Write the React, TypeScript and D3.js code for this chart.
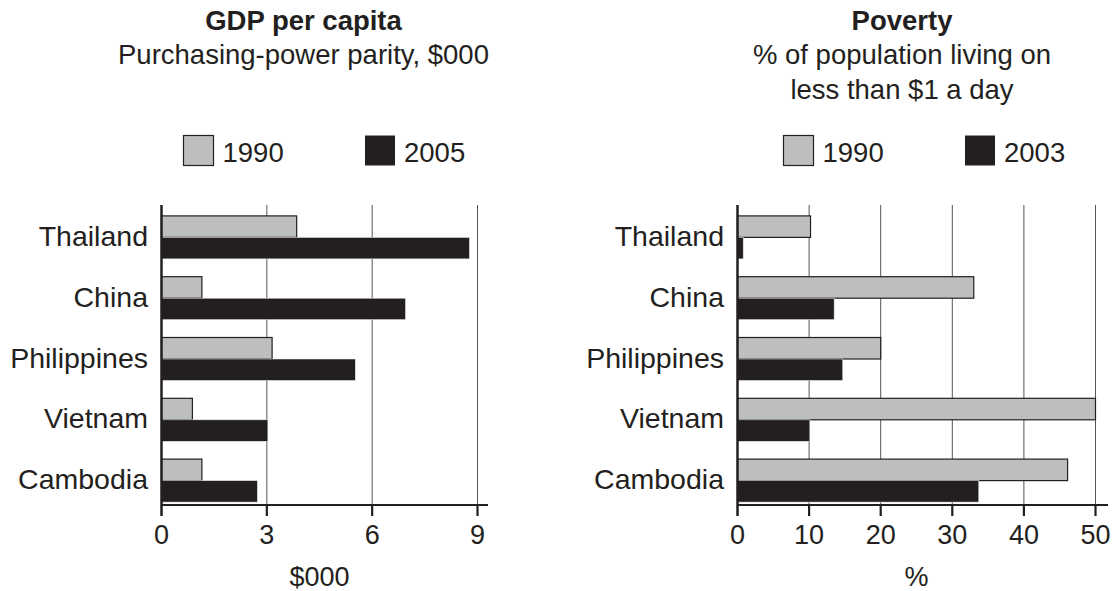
import React, { useEffect, useRef } from 'react';
import * as d3 from 'd3';

const categories = ['Thailand', 'China', 'Philippines', 'Vietnam', 'Cambodia'];
const gdp1990 = [3.85, 1.15, 3.15, 0.88, 1.15];
const gdp2005 = [8.77, 6.95, 5.52, 3.03, 2.73];
const poverty1990 = [10.2, 33.0, 20.0, 50.0, 46.1];
const poverty2003 = [0.8, 13.5, 14.7, 10.1, 33.7];
const gdpTicks = [0, 3, 6, 9];
const povertyTicks = [0, 10, 20, 30, 40, 50];
const gdpYears = ['1990', '2005'];
const povertyYears = ['1990', '2003'];

const INK = '#231f20';
const GREY = '#bdbec0';
const FONT = '"Liberation Sans", Arial, Helvetica, sans-serif';

interface Panel {
  title: string;
  subtitle: string[];
  titleX: number;
  years: string[];
  legendX: [number, number];
  series: [number[], number[]];
  ticks: number[];
  xRange: [number, number];
  axisEnd: number;
  labelX: number;
  unit: string;
}

const panels: Panel[] = [
  {
    title: 'GDP per capita',
    subtitle: ['Purchasing-power parity, $000'],
    titleX: 303.5,
    years: gdpYears,
    legendX: [183.5, 365],
    series: [gdp1990, gdp2005],
    ticks: gdpTicks,
    xRange: [161.5, 477.5],
    axisEnd: 488,
    labelX: 148,
    unit: '$000',
  },
  {
    title: 'Poverty',
    subtitle: ['% of population living on', 'less than $1 a day'],
    titleX: 902,
    years: povertyYears,
    legendX: [783.5, 965],
    series: [poverty1990, poverty2003],
    ticks: povertyTicks,
    xRange: [737.5, 1095.5],
    axisEnd: 1108,
    labelX: 724,
    unit: '%',
  },
];

const App: React.FC = () => {
  const svgRef = useRef<SVGSVGElement>(null);

  useEffect(() => {
    if (!svgRef.current) return;
    document.body.style.margin = '0';

    const svg = d3.select(svgRef.current);
    svg.selectAll('*').remove();

    const plotTop = 205;
    const plotBottom = 505;
    const barH = 21.5;

    const y = d3.scaleBand<string>()
      .domain(categories)
      .range([207, 511])
      .padding(0);

    panels.forEach(p => {
      const g = svg.append('g').attr('font-family', FONT).attr('fill', INK);
      const x = d3.scaleLinear()
        .domain([0, p.ticks[p.ticks.length - 1]])
        .range(p.xRange);

      // Titles
      g.append('text')
        .attr('x', p.titleX).attr('y', 30)
        .attr('text-anchor', 'middle')
        .attr('font-size', 27.5).attr('font-weight', 'bold')
        .text(p.title);
      p.subtitle.forEach((s, i) => {
        g.append('text')
          .attr('x', p.titleX).attr('y', 64 + i * 35)
          .attr('text-anchor', 'middle')
          .attr('font-size', 27.5)
          .text(s);
      });

      // Legend
      p.years.forEach((yr, i) => {
        g.append('rect')
          .attr('x', p.legendX[i]).attr('y', 135.5)
          .attr('width', 30).attr('height', 30)
          .attr('fill', i === 0 ? GREY : INK)
          .attr('stroke', INK).attr('stroke-width', i === 0 ? 1.2 : 0);
        g.append('text')
          .attr('x', p.legendX[i] + 39).attr('y', 162)
          .attr('font-size', 27.5)
          .text(yr);
      });

      // Gridlines
      g.selectAll('line.grid')
        .data(p.ticks.slice(1))
        .join('line')
        .attr('x1', d => x(d)).attr('x2', d => x(d))
        .attr('y1', plotTop).attr('y2', plotBottom)
        .attr('stroke', '#555').attr('stroke-width', 1);

      // Bars
      p.series.forEach((vals, si) => {
        g.selectAll(`rect.bar${si}`)
          .data(categories)
          .join('rect')
          .attr('x', x(0))
          .attr('y', d => (y(d) as number) + y.bandwidth() / 2 - barH + si * barH)
          .attr('width', (d, i) => x(vals[i]) - x(0))
          .attr('height', barH)
          .attr('fill', si === 0 ? GREY : INK)
          .attr('stroke', si === 0 ? INK : '#e6e6e6')
          .attr('stroke-width', si === 0 ? 1.2 : 0.6);
      });

      // Bottom axis
      g.append('line')
        .attr('x1', x(0)).attr('x2', p.axisEnd)
        .attr('y1', plotBottom).attr('y2', plotBottom)
        .attr('stroke', INK).attr('stroke-width', 2);
      g.selectAll('line.tick')
        .data(p.ticks.slice(1))
        .join('line')
        .attr('x1', d => x(d)).attr('x2', d => x(d))
        .attr('y1', plotBottom).attr('y2', plotBottom + 11)
        .attr('stroke', INK).attr('stroke-width', 2.2);
      g.selectAll('text.tick')
        .data(p.ticks)
        .join('text')
        .attr('x', d => x(d)).attr('y', 544)
        .attr('text-anchor', 'middle')
        .attr('font-size', 27)
        .text(d => String(d));

      // Left axis
      g.append('line')
        .attr('x1', x(0)).attr('x2', x(0))
        .attr('y1', plotTop).attr('y2', plotBottom + 11)
        .attr('stroke', INK).attr('stroke-width', 2.5);

      // Category labels
      g.selectAll('text.cat')
        .data(categories)
        .join('text')
        .attr('x', p.labelX)
        .attr('y', d => (y(d) as number) + y.bandwidth() / 2 + 8.5)
        .attr('text-anchor', 'end')
        .attr('font-size', 28.5)
        .text(d => d);

      // Axis title
      g.append('text')
        .attr('x', (p.xRange[0] + p.xRange[1]) / 2).attr('y', 586)
        .attr('text-anchor', 'middle')
        .attr('font-size', 27)
        .text(p.unit);
    });
  }, []);

  return (
    <svg
      ref={svgRef}
      width={1116}
      height={591}
      style={{ position: 'absolute', left: 0, top: 0, background: '#fff' }}
    />
  );
};

export default App;
